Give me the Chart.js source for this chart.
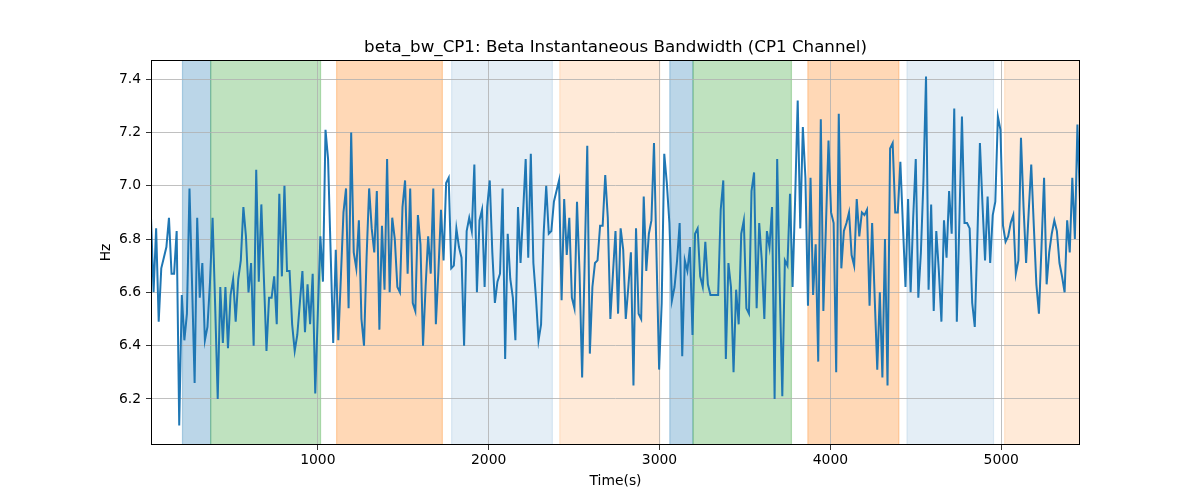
<!DOCTYPE html>
<html>
<head>
<meta charset="utf-8">
<script src="https://cdn.jsdelivr.net/npm/chart.js@4.4.0/dist/chart.umd.min.js"></script>
<style>
html, body { margin: 0; padding: 0; background: #ffffff; }
canvas { display: block; }
</style>
</head>
<body>
<canvas id="c" width="1200" height="500"></canvas>
<script>
const chartTitle = "beta_bw_CP1: Beta Instantaneous Bandwidth (CP1 Channel)";
const xLabel = "Time(s)";
const yLabel = "Hz";

// sampling grid of the series (seconds)
const startTime = 23.7;
const sampleStep = 15.02;

// beta instantaneous bandwidth (Hz)
const bandwidth = [
  6.88, 6.60, 6.84, 6.49, 6.69, 6.73, 6.77, 6.88, 6.67, 6.67,
  6.83, 6.10, 6.59, 6.42, 6.52, 6.99, 6.63, 6.26, 6.88, 6.58,
  6.71, 6.42, 6.47, 6.64, 6.88, 6.55, 6.20, 6.62, 6.41, 6.62,
  6.39, 6.59, 6.65, 6.49, 6.65, 6.72, 6.92, 6.81, 6.60, 6.71,
  6.40, 7.06, 6.64, 6.93, 6.65, 6.38, 6.58, 6.58, 6.66, 6.48,
  6.97, 6.66,
  7.00, 6.68, 6.68, 6.48, 6.38, 6.44, 6.56, 6.68, 6.45, 6.63,
  6.48, 6.67, 6.22, 6.52, 6.81, 6.64, 7.21, 7.10, 6.75, 6.41,
  6.76, 6.42, 6.66, 6.90, 6.99, 6.54, 7.20, 6.75, 6.69, 6.87,
  6.50, 6.40, 6.73, 6.99, 6.84, 6.75, 6.98, 6.46, 6.85, 6.61,
  7.10, 6.60, 6.88, 6.80, 6.62, 6.60, 6.92, 7.02, 6.67, 6.99,
  6.56, 6.53,
  6.89, 6.78, 6.40, 6.62, 6.81, 6.67, 6.99, 6.48, 6.68, 6.91,
  6.72, 7.01, 7.03, 6.69, 6.70, 6.84, 6.77, 6.73, 6.40, 6.83,
  6.88, 6.83, 7.08, 6.60, 6.87, 6.91, 6.62, 6.92, 7.02, 6.75,
  6.56, 6.64, 6.67, 6.99, 6.35, 6.82, 6.65, 6.58, 6.42, 6.92,
  6.71, 6.90, 7.10, 6.73, 7.12, 6.71, 6.58, 6.42, 6.48, 6.82,
  7.00, 6.82, 6.83,
  6.94, 6.98, 7.02, 6.57, 6.95, 6.74, 6.88, 6.58, 6.54, 6.94,
  6.67, 6.28, 6.72, 7.15, 6.37, 6.62, 6.71, 6.72, 6.85, 6.85,
  7.04, 6.88, 6.50, 6.67, 6.83, 6.52, 6.84, 6.76, 6.50, 6.62,
  6.75, 6.25, 6.84, 6.52, 6.50, 6.96, 6.68, 6.82, 6.87, 7.16,
  6.73, 6.31, 6.56, 7.12, 7.01, 6.86, 6.57, 6.62, 6.72, 6.86,
  6.36, 6.72,
  6.68, 6.77, 6.44, 6.82, 6.84, 6.66, 6.62, 6.79, 6.63, 6.59,
  6.59, 6.59, 6.59, 6.91, 7.02, 6.35, 6.71, 6.62, 6.30, 6.61,
  6.48, 6.82, 6.87, 6.54, 6.52, 6.98, 7.05, 6.54, 6.86, 6.72,
  6.50, 6.83, 6.77, 6.92, 6.20, 7.10, 6.62, 6.21, 6.72, 6.70,
  6.97, 6.62, 6.95, 7.32, 6.84, 7.22, 7.03, 6.55, 7.03, 6.59,
  6.78, 6.34,
  7.25, 6.53, 6.85, 7.17, 6.90, 6.86, 6.30, 7.27, 6.69, 6.83,
  6.86, 6.90, 6.74, 6.70, 6.95, 6.81, 6.90, 6.89, 6.91, 6.55,
  6.86, 6.58, 6.31, 6.60, 6.28, 6.80, 6.25, 7.14, 7.16, 6.90,
  6.90, 7.09, 6.85, 6.62, 6.95, 6.60, 6.88, 7.10, 6.58, 6.75,
  7.02, 7.41, 6.61, 6.93, 6.53, 6.83, 6.68, 6.49, 6.87, 6.73,
  6.98, 6.82, 7.29,
  6.49, 6.87, 7.26, 6.86, 6.86, 6.84, 6.56, 6.47, 6.80, 7.16,
  6.93, 6.72, 6.96, 6.71, 6.89, 6.94, 7.26, 7.21, 6.85, 6.79,
  6.81, 6.86, 6.89, 6.67, 6.72, 7.18, 6.92, 6.71, 6.90, 7.08,
  6.85, 6.63, 6.52, 6.77, 7.03, 6.63, 6.75, 6.82, 6.87, 6.83,
  6.71, 6.66, 6.60, 6.87, 6.75, 7.03, 6.80, 7.23, 6.94
];

// shaded intervals (seconds) and their kind
const spanStarts = [208, 373, 1110, 1783, 2416, 3060, 3196, 3868, 4448, 5020];
const spanEnds   = [373, 1016, 1729, 2373, 3001, 3196, 3772, 4401, 4955, 5470];
const spanKinds  = ["blue", "green", "orange", "paleBlue", "paleOrange",
                    "blue", "green", "orange", "paleBlue", "paleOrange"];

// tick values
const xTicks = [1000, 2000, 3000, 4000, 5000];
const yTicks = [6.2, 6.4, 6.6, 6.8, 7.0, 7.2, 7.4];
const yMin = 6.027;
const yMax = 7.472;

// ---- styles (kept apart from the data) ----
const spanStyles = {
  blue:       "rgba(31,119,180,0.30)",
  green:      "rgba(44,160,44,0.30)",
  orange:     "rgba(255,127,14,0.30)",
  paleBlue:   "rgba(31,119,180,0.12)",
  paleOrange: "rgba(255,127,14,0.16)"
};

const points = bandwidth.map((v, i) => ({ x: startTime + i * sampleStep, y: v }));
const xMin = points[0].x;
const xMax = points[points.length - 1].x;

Chart.defaults.font.family = "'DejaVu Sans', sans-serif";
Chart.defaults.color = "#000000";

const spanPlugin = {
  id: "spans",
  beforeDraw(chart) {
    const { ctx, chartArea } = chart;
    const xs = chart.scales.x;
    ctx.save();
    ctx.beginPath();
    ctx.rect(chartArea.left, chartArea.top, chartArea.right - chartArea.left, chartArea.bottom - chartArea.top);
    ctx.clip();
    for (let i = 0; i < spanStarts.length; i++) {
      const x1 = xs.getPixelForValue(spanStarts[i]);
      const x2 = xs.getPixelForValue(spanEnds[i]);
      const c = spanStyles[spanKinds[i]];
      ctx.fillStyle = c;
      ctx.fillRect(x1, chartArea.top, x2 - x1, chartArea.bottom - chartArea.top);
      ctx.strokeStyle = c;
      ctx.lineWidth = 1.2;
      ctx.beginPath();
      ctx.moveTo(x1, chartArea.top); ctx.lineTo(x1, chartArea.bottom);
      ctx.moveTo(x2, chartArea.top); ctx.lineTo(x2, chartArea.bottom);
      ctx.stroke();
    }
    ctx.restore();
  }
};

const textPlugin = {
  id: "texts",
  afterDraw(chart) {
    const { ctx, chartArea } = chart;
    ctx.save();
    // frame
    ctx.strokeStyle = "#000000";
    ctx.lineWidth = 1;
    ctx.strokeRect(Math.round(chartArea.left) + 0.5, Math.round(chartArea.top) + 0.5,
                   Math.round(chartArea.right - chartArea.left) - 1, Math.round(chartArea.bottom - chartArea.top) - 1);
    ctx.fillStyle = "#000000";
    const cx = (chartArea.left + chartArea.right) / 2;
    // title
    ctx.font = "16.7px 'DejaVu Sans', sans-serif";
    ctx.textAlign = "center";
    ctx.textBaseline = "alphabetic";
    ctx.fillText(chartTitle, cx, 52);
    // x label
    ctx.font = "13.9px 'DejaVu Sans', sans-serif";
    ctx.textBaseline = "middle";
    ctx.fillText(xLabel, cx, 481);
    // y label
    ctx.translate(106, (chartArea.top + chartArea.bottom) / 2);
    ctx.rotate(-Math.PI / 2);
    ctx.fillText(yLabel, 0, 0);
    ctx.restore();
  }
};

new Chart(document.getElementById("c"), {
  type: "line",
  data: {
    datasets: [{
      data: points,
      borderColor: "#1f77b4",
      borderWidth: 2,
      pointRadius: 0,
      tension: 0,
      fill: false
    }]
  },
  options: {
    responsive: false,
    animation: false,
    devicePixelRatio: 1,
    layout: { padding: { left: 0, right: 120, top: 60, bottom: 0 } },
    plugins: {
      legend: { display: false },
      tooltip: { enabled: false },
      title: { display: false }
    },
    scales: {
      x: {
        type: "linear",
        min: xMin,
        max: xMax,
        afterBuildTicks: (axis) => { axis.ticks = xTicks.map(v => ({ value: v })); },
        afterFit: (axis) => { axis.height = 55; },
        border: { display: false },
        grid: { color: "#b0b0b0", lineWidth: 0.8, tickColor: "#000000", tickLength: 5, tickWidth: 0.8 },
        ticks: { color: "#000000", padding: 2, maxRotation: 0, font: { size: 13.9 }, callback: (v) => String(v) }
      },
      y: {
        type: "linear",
        min: yMin,
        max: yMax,
        afterBuildTicks: (axis) => { axis.ticks = yTicks.map(v => ({ value: v })); },
        afterFit: (axis) => { axis.width = 151; },
        border: { display: false },
        grid: { color: "#b0b0b0", lineWidth: 0.8, tickColor: "#000000", tickLength: 5, tickWidth: 0.8 },
        ticks: { color: "#000000", padding: 5, font: { size: 13.9 }, callback: (v) => Number(v).toFixed(1) }
      }
    }
  },
  plugins: [spanPlugin, textPlugin]
});
</script>
</body>
</html>
